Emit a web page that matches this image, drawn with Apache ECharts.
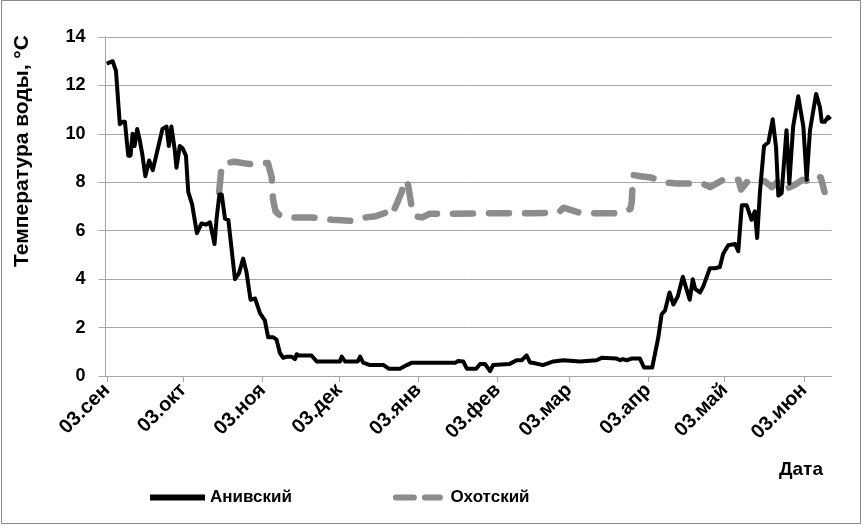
<!DOCTYPE html>
<html>
<head>
<meta charset="utf-8">
<script src="https://cdn.jsdelivr.net/npm/echarts@6/dist/echarts.min.js"></script>
<style>
html,body{margin:0;padding:0;background:#fff;}
#chart{width:863px;height:526px;}
</style>
</head>
<body>
<div id="chart"></div>
<script>
// Day offsets counted from 03 September
var tickDays = [0, 30, 61, 91, 122, 153, 181, 212, 242, 273];
var tickLabels = ['03.сен', '03.окт', '03.ноя', '03.дек', '03.янв', '03.фев', '03.мар', '03.апр', '03.май', '03.июн'];

var seriesNames = ['Анивский', 'Охотский'];
var yTitle = 'Температура воды, °С';
var xTitle = 'Дата';

var anivDays = [0,0.7,2.3,3.6,5.1,6.2,7.1,8.4,9.3,10.1,10.9,11.9,12.9,14.0,15.1,16.6,18.0,19.8,21.8,23.4,24.3,25.3,26.6,27.3,28.6,29.7,31.0,31.9,33.4,35.3,37.1,38.9,40.4,42.2,43.0,44.1,45.0,46.3,47.6,50.2,51.8,53.4,54.7,56.3,58.1,60.0,61.9,63.2,65.2,66.5,67.8,69.1,70.4,72.4,73.7,74.4,75.2,80.2,82.2,91.3,92.0,93.3,98.3,99.2,100.4,103.1,108.4,110.4,114.8,117.5,119.5,136.6,137.6,139.6,141.0,144.7,146.2,148.1,150.1,151.3,157.8,160.5,162.5,164.4,165.8,166.8,170.8,174.9,178.9,185.3,191.8,193.8,199.6,201.1,202.1,203.6,205.5,208.8,210.4,213.6,216.0,217.3,218.6,220.4,221.9,223.6,224.2,225.6,227.0,228.3,229.5,230.4,232.3,233.6,236.2,238.2,240.1,241.4,243.4,246.1,247.3,248.7,250.6,252.5,253.8,254.7,255.8,257.4,259.1,260.8,262.1,263.0,264.3,266.2,267.3,268.8,270.8,272.8,274.1,275.4,277.8,279.3,280.0,281.2,282.5,283.4];
var anivTemp = [12.9,12.85,13.0,12.6,10.4,10.5,10.5,9.1,9.1,10.0,9.5,10.2,9.75,9.1,8.25,8.9,8.5,9.3,10.2,10.3,9.5,10.3,9.35,8.6,9.5,9.4,9.1,7.6,7.1,5.9,6.3,6.25,6.35,5.45,6.5,7.5,7.5,6.5,6.45,4.0,4.25,4.85,4.3,3.15,3.2,2.6,2.3,1.6,1.6,1.5,0.95,0.75,0.8,0.8,0.7,0.9,0.85,0.85,0.6,0.6,0.8,0.6,0.6,0.8,0.55,0.45,0.45,0.3,0.3,0.45,0.55,0.55,0.62,0.6,0.3,0.3,0.5,0.5,0.2,0.45,0.5,0.65,0.65,0.85,0.55,0.55,0.45,0.6,0.65,0.6,0.65,0.75,0.72,0.65,0.7,0.65,0.72,0.72,0.35,0.35,1.6,2.55,2.7,3.45,2.95,3.28,3.28,4.1,3.6,3.15,4.0,3.6,3.45,3.7,4.45,4.45,4.5,5.05,5.4,5.45,5.15,7.05,7.05,6.45,6.8,5.7,7.6,9.5,9.65,10.6,9.45,7.45,7.55,10.15,7.95,10.3,11.55,10.3,8.1,10.15,11.65,11.1,10.5,10.5,10.7,10.6];

var okhDays = [44.0,45.0,47.0,50.0,56.0,60.1,63.1,64.6,65.1,66.1,68.1,72.2,80.2,88.3,97.3,101.4,105.4,109.4,111.4,113.5,115.5,116.5,118.0,119.5,120.5,123.5,126.5,133.6,150.7,165.8,176.9,178.9,185.9,201.1,205.1,205.6,206.1,209.1,213.1,218.2,223.2,233.3,236.3,241.3,247.4,248.4,251.4,257.5,260.5,263.5,266.5,269.5,272.5,274.6,277.6,279.6,281.1];
var okhTemp = [7.6,8.7,8.8,8.85,8.75,8.8,8.8,8.2,7.3,6.8,6.6,6.55,6.55,6.45,6.4,6.55,6.6,6.75,6.6,7.1,7.6,8.1,7.9,6.9,6.6,6.55,6.7,6.7,6.72,6.72,6.75,6.95,6.72,6.72,6.9,7.2,8.3,8.25,8.2,8.0,7.95,7.95,7.8,8.1,8.1,7.7,8.1,8.05,7.8,8.1,7.75,7.9,8.1,8.05,8.3,8.2,7.6];

function pairs(xs, ys) { return xs.map(function (x, i) { return [x, ys[i]]; }); }

var FONT = '"Liberation Sans", Arial, sans-serif';
var GRID_COLOR = '#a6a6a6';
var GRAY = '#8c8c8c';

var dashIcon = 'path://M3,0 H21 A3,3 0 0 1 21,6 H3 A3,3 0 0 1 3,0 Z M32,0 H47 A3,3 0 0 1 47,6 H32 A3,3 0 0 1 32,0 Z';

var chart = echarts.init(document.getElementById('chart'), null, {renderer: 'canvas'});
chart.setOption({
  animation: false,
  backgroundColor: '#ffffff',
  textStyle: {fontFamily: FONT},
  grid: {left: 105.5, right: 31.3, top: 37, bottom: 150, containLabel: false},
  xAxis: {
    type: 'value',
    min: -0.5,
    max: 283.9,
    axisLine: {show: true, onZero: false, lineStyle: {color: GRID_COLOR, width: 1}},
    axisTick: {show: true, customValues: tickDays, length: 6, lineStyle: {color: GRID_COLOR}},
    axisLabel: {
      customValues: tickDays,
      formatter: function (v) { var i = tickDays.indexOf(v); return i >= 0 ? tickLabels[i] : ''; },
      rotate: 45, margin: 11, color: '#000', fontWeight: 'bold', fontSize: 20, fontFamily: FONT
    },
    splitLine: {show: false}
  },
  yAxis: {
    type: 'value',
    min: 0, max: 14, interval: 2,
    axisLine: {show: true, onZero: false, lineStyle: {color: GRID_COLOR, width: 1}},
    axisTick: {show: true, length: 7, lineStyle: {color: GRID_COLOR}},
    axisLabel: {color: '#000', fontWeight: 'bold', fontSize: 18, margin: 20, fontFamily: FONT},
    splitLine: {show: true, lineStyle: {color: GRID_COLOR, width: 1}}
  },
  legend: {
    left: 150, top: 489, padding: 0,
    itemWidth: 55, itemHeight: 6, itemGap: 101,
    textStyle: {color: '#000', fontWeight: 'bold', fontSize: 17, fontFamily: FONT},
    data: [
      {name: seriesNames[0], icon: 'rect', itemStyle: {color: '#000'}},
      {name: seriesNames[1], icon: dashIcon, itemStyle: {color: GRAY}}
    ]
  },
  graphic: [
    {type: 'text', x: 22, y: 151, rotation: Math.PI / 2,
     style: {text: yTitle, fill: '#000', font: 'bold 21px ' + FONT, align: 'center', verticalAlign: 'middle'}},
    {type: 'text', left: 779, top: 460, style: {text: xTitle, fill: '#000', font: 'bold 19px ' + FONT}},
    {type: 'rect', shape: {x: 1.5, y: 0.5, width: 859, height: 523}, style: {fill: null, stroke: '#8a8a8a', lineWidth: 1}, silent: true}
  ],
  series: [
    {
      name: seriesNames[0], type: 'line', data: pairs(anivDays, anivTemp),
      showSymbol: false, symbol: 'none', z: 3,
      lineStyle: {color: '#000', width: 4, join: 'round'},
      itemStyle: {color: '#000'}
    },
    {
      name: seriesNames[1], type: 'line', data: pairs(okhDays, okhTemp),
      showSymbol: false, symbol: 'none', z: 2,
      lineStyle: {color: GRAY, width: 6.5, type: [20, 16], dashOffset: 0, cap: 'round', join: 'round'},
      itemStyle: {color: GRAY}
    }
  ]
});
</script>
</body>
</html>
